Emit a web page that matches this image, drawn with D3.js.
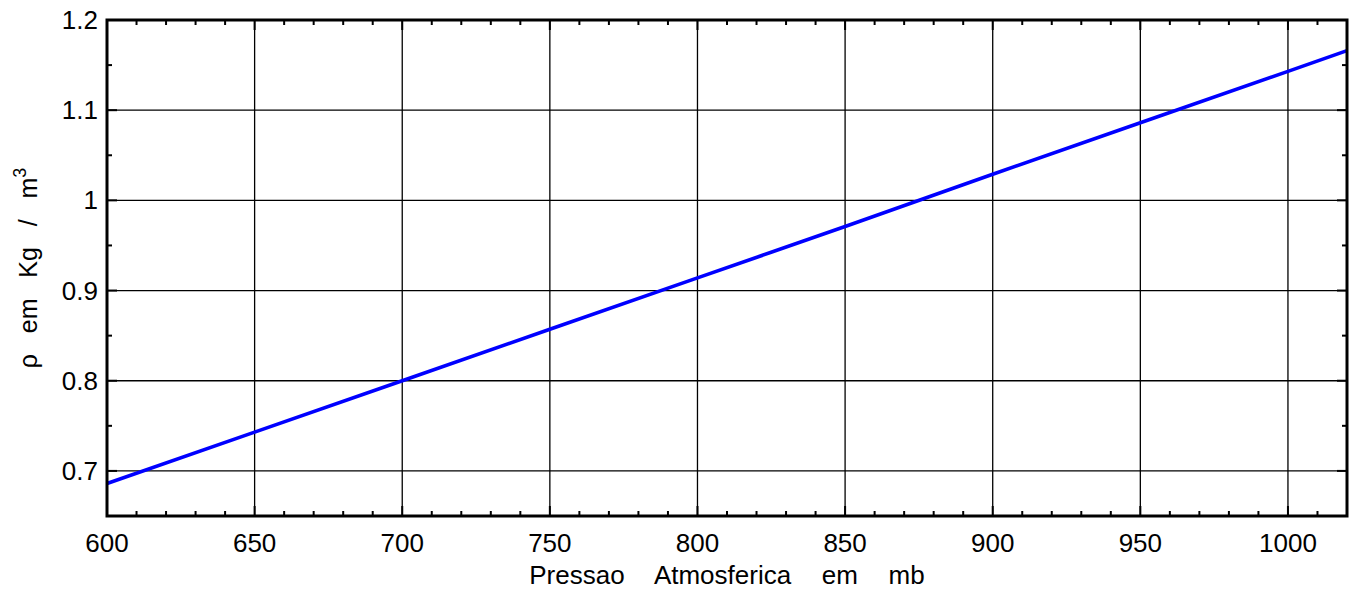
<!DOCTYPE html>
<html><head><meta charset="utf-8">
<script src="https://cdn.jsdelivr.net/npm/d3@7"></script>
<style>body{margin:0;background:#fff}svg{display:block}text{font-family:"Liberation Sans",Arial,sans-serif;fill:#000}</style>
</head><body><svg id="c" width="1353" height="589"></svg>
<script>
const pressure = [600, 650, 700, 750, 800, 850, 900, 950, 1000, 1020];
const density = [0.686, 0.743, 0.800, 0.857, 0.914, 0.971, 1.029, 1.086, 1.143, 1.166];
const xTicks = [600, 650, 700, 750, 800, 850, 900, 950, 1000];
const yTicks = [0.7, 0.8, 0.9, 1.0, 1.1, 1.2];
const xLabel = "Pressao   Atmosferica   em   mb";

const L = 107, R = 1347, T = 20, B = 516;
const svg = d3.select("#c");
const x = d3.scaleLinear().domain([600, 1020]).range([L, R]);
const y = d3.scaleLinear().domain([0.65, 1.2]).range([B, T]);

// grid
svg.append("g").selectAll("line").data(xTicks.slice(1)).join("line")
  .attr("x1", d => x(d)).attr("x2", d => x(d)).attr("y1", T).attr("y2", B)
  .attr("stroke", "#000").attr("stroke-width", 1.3);
svg.append("g").selectAll("line").data(yTicks.slice(0, -1)).join("line")
  .attr("y1", d => y(d)).attr("y2", d => y(d)).attr("x1", L).attr("x2", R)
  .attr("stroke", "#000").attr("stroke-width", 1.3);

// axes with minor ticks
const xMinor = d3.range(610, 1020, 10).filter(v => v % 50 !== 0);
const yMinor = [0.75, 0.85, 0.95, 1.05, 1.15];
const tk = svg.append("g").attr("stroke", "#000").attr("stroke-width", 2);
xMinor.forEach(v => {
  tk.append("line").attr("x1", x(v)).attr("x2", x(v)).attr("y1", B).attr("y2", B - 5);
  tk.append("line").attr("x1", x(v)).attr("x2", x(v)).attr("y1", T).attr("y2", T + 5);
});
xTicks.forEach(v => {
  tk.append("line").attr("x1", x(v)).attr("x2", x(v)).attr("y1", B).attr("y2", B - 10);
  tk.append("line").attr("x1", x(v)).attr("x2", x(v)).attr("y1", T).attr("y2", T + 10);
});
yMinor.forEach(v => {
  tk.append("line").attr("y1", y(v)).attr("y2", y(v)).attr("x1", L).attr("x2", L + 5);
  tk.append("line").attr("y1", y(v)).attr("y2", y(v)).attr("x1", R).attr("x2", R - 5);
});
yTicks.forEach(v => {
  tk.append("line").attr("y1", y(v)).attr("y2", y(v)).attr("x1", L).attr("x2", L + 10);
  tk.append("line").attr("y1", y(v)).attr("y2", y(v)).attr("x1", R).attr("x2", R - 10);
});

// data line
svg.append("path").datum(pressure.map((p, i) => [p, density[i]]))
  .attr("d", d3.line().x(d => x(d[0])).y(d => y(d[1])))
  .attr("fill", "none").attr("stroke", "#0000ff").attr("stroke-width", 3.6);

// frame
svg.append("rect").attr("x", L).attr("y", T).attr("width", R - L).attr("height", B - T)
  .attr("fill", "none").attr("stroke", "#000").attr("stroke-width", 3);

// tick labels
svg.append("g").selectAll("text").data(xTicks).join("text")
  .attr("x", d => x(d)).attr("y", 552).attr("text-anchor", "middle")
  .attr("font-size", 26).text(d => d);
svg.append("g").selectAll("text").data(yTicks).join("text")
  .attr("x", 98).attr("y", d => y(d) + 9).attr("text-anchor", "end")
  .attr("font-size", 26).text(d => d3.format("~g")(d));

// axis titles
svg.append("text").attr("x", (L + R) / 2).attr("y", 584).attr("text-anchor", "middle")
  .attr("font-size", 26).attr("word-spacing", 3).style("white-space", "pre").text(xLabel);
const yl = svg.append("text").attr("transform", `translate(37,${(T + B) / 2}) rotate(-90)`)
  .attr("text-anchor", "middle").attr("font-size", 25).style("white-space", "pre");
yl.append("tspan").text("ρ   em   Kg   /   m");
yl.append("tspan").attr("dy", -11).attr("font-size", 18).text("3");
</script></body></html>
